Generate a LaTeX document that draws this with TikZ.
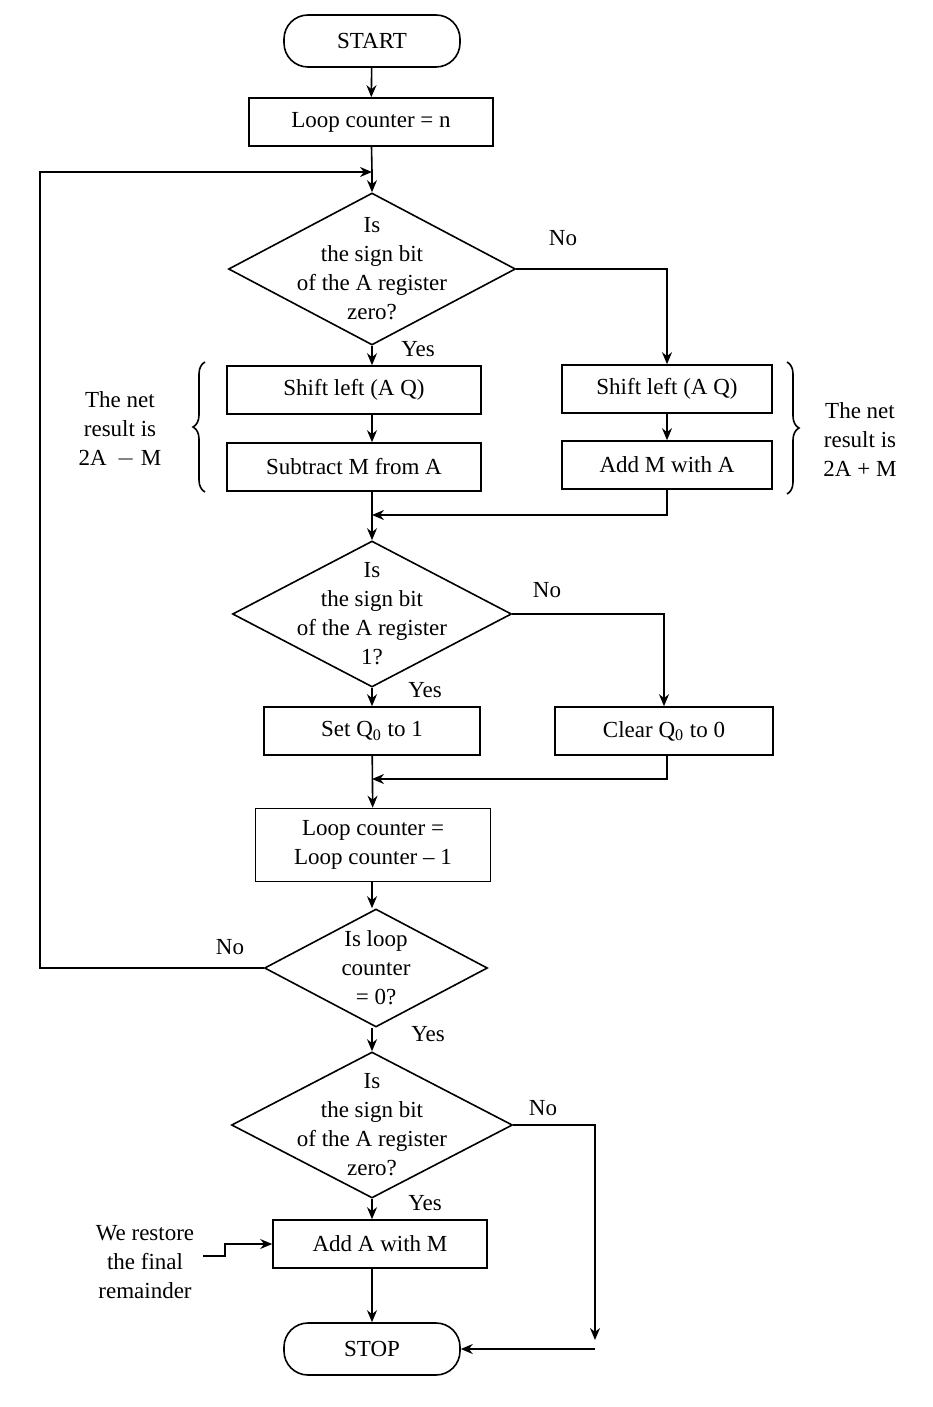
\documentclass[tikz,border=0pt]{standalone}
\usepackage{fontspec}
\setmainfont{Liberation Serif}
\usetikzlibrary{shapes.geometric,decorations.pathreplacing,arrows.meta}
\tikzset{
  box/.style={draw,minimum height=24pt,inner sep=0pt,align=center},
  term/.style={draw,rounded corners=12pt,minimum width=88pt,minimum height=26pt},
  dec/.style={draw,diamond,inner sep=0pt},
  lbl/.style={align=center},
  flow/.style={-{Stealth[length=6pt,width=5pt]}}
}
\begin{document}
\begin{tikzpicture}[x=0.5pt,y=-0.5pt,line width=0.8pt,font=\fontsize{11.5}{14.5}\selectfont]
    \useasboundingbox (0,0) rectangle (932,1407);
    % top
    \node[term] (start) at (372,41) {START};
    \node[box,minimum width=122pt] (init) at (371,122) {Loop counter = n};
    \node[dec,minimum width=143.5pt,minimum height=76pt] (d1) at (372,269) {};
    \node[lbl] at (372,269) {Is\\the sign bit\\of the A register\\zero?};
    % shift and add / subtract
    \node[box,minimum width=127pt] (shl) at (354,390) {Shift left (A Q)};
    \node[box,minimum width=127pt] (sub) at (354,467) {Subtract M from A};
    \node[box,minimum width=105pt] (shr) at (667,389) {Shift left (A Q)};
    \node[box,minimum width=105pt] (add) at (667,465) {Add M with A};
    \draw[decorate,decoration={brace,amplitude=6pt}] (205,492) -- (205,362);
    \node[lbl] (netl) at (120,430) {The net\\result is\\2A \,$-$ M};
    \draw[decorate,decoration={brace,amplitude=6pt}] (787,362) -- (787,494);
    \node[lbl] (netr) at (860,440) {The net\\result is\\2A + M};
    \node[dec,minimum width=139.5pt,minimum height=73pt] (d2) at (372,614) {};
    \node[lbl] at (372,614) {Is\\the sign bit\\of the A register\\1?};
    % set / clear
    \node[box,minimum width=108pt] (set) at (372,731) {Set Q\textsubscript{0} to 1};
    \node[box,minimum width=109pt] (clr) at (664,731) {Clear Q\textsubscript{0} to 0};
    \node[box,minimum width=117.5pt,minimum height=36.5pt] (dec) at (373,845) {Loop counter =\\Loop counter -- 1};
    \node[dec,minimum width=111.5pt,minimum height=59pt] (d3) at (376,968) {};
    \node[lbl] at (376,968) {Is loop\\counter\\= 0?};
    \node[dec,minimum width=140.5pt,minimum height=73pt] (d4) at (372,1125) {};
    \node[lbl] at (372,1125) {Is\\the sign bit\\of the A register\\zero?};
    \node[box,minimum width=107pt] (rst) at (380,1244) {Add A with M};
    \node[term] (stop) at (372,1349) {STOP};
    \node[lbl] (note) at (145,1262) {We restore\\the final\\remainder};
    % labels
    \node at (563,238) {No};
    \node at (418,349) {Yes};
    \node at (547,590) {No};
    \node at (425,690) {Yes};
    \node at (230,947) {No};
    \node at (428,1034) {Yes};
    \node at (543,1108) {No};
    \node at (425,1203) {Yes};
    % connectors
    \coordinate (loop) at (372,172);
    \coordinate (m1) at (372,515);
    \coordinate (m2) at (372,779);
    \draw[flow] (start) -- (init);
    \draw (init) -- (loop);
    \draw[flow] (loop) -- (d1);
    \draw[flow] (d1.east) -| (shr);
    \draw[flow] (d1) -- (d1 |- shl.north);
    \draw[flow] (shl.south -| d1) -- (sub.north -| d1);
    \draw[flow] (shr) -- (add);
    \draw[flow] (add) |- (m1);
    \draw[flow] (sub.south -| d1) -- (d2);
    \draw[flow] (d2) -- (set);
    \draw[flow] (d2.east) -| (clr);
    \draw[flow] (clr.south -| 667,0) |- (m2);
    \draw[flow] (set) -- (dec);
    \draw[flow] (dec.south -| d1) -- (d1 |- d3.north);
    \draw[flow] (d3.west) -| (40,172) -- (loop);
    \draw[flow] (d1 |- d3.south) -- (d4);
    \draw[flow] (d4) -- (d4 |- rst.north);
    \draw[flow] (d4 |- rst.south) -- (stop);
    \draw[flow] (d4.east) -| (595,1340);
    \draw[flow] (595,1349) -- (stop);
    \draw[flow] (203,1256) -- (225,1256) |- (rst.west);
\end{tikzpicture}
\end{document}
